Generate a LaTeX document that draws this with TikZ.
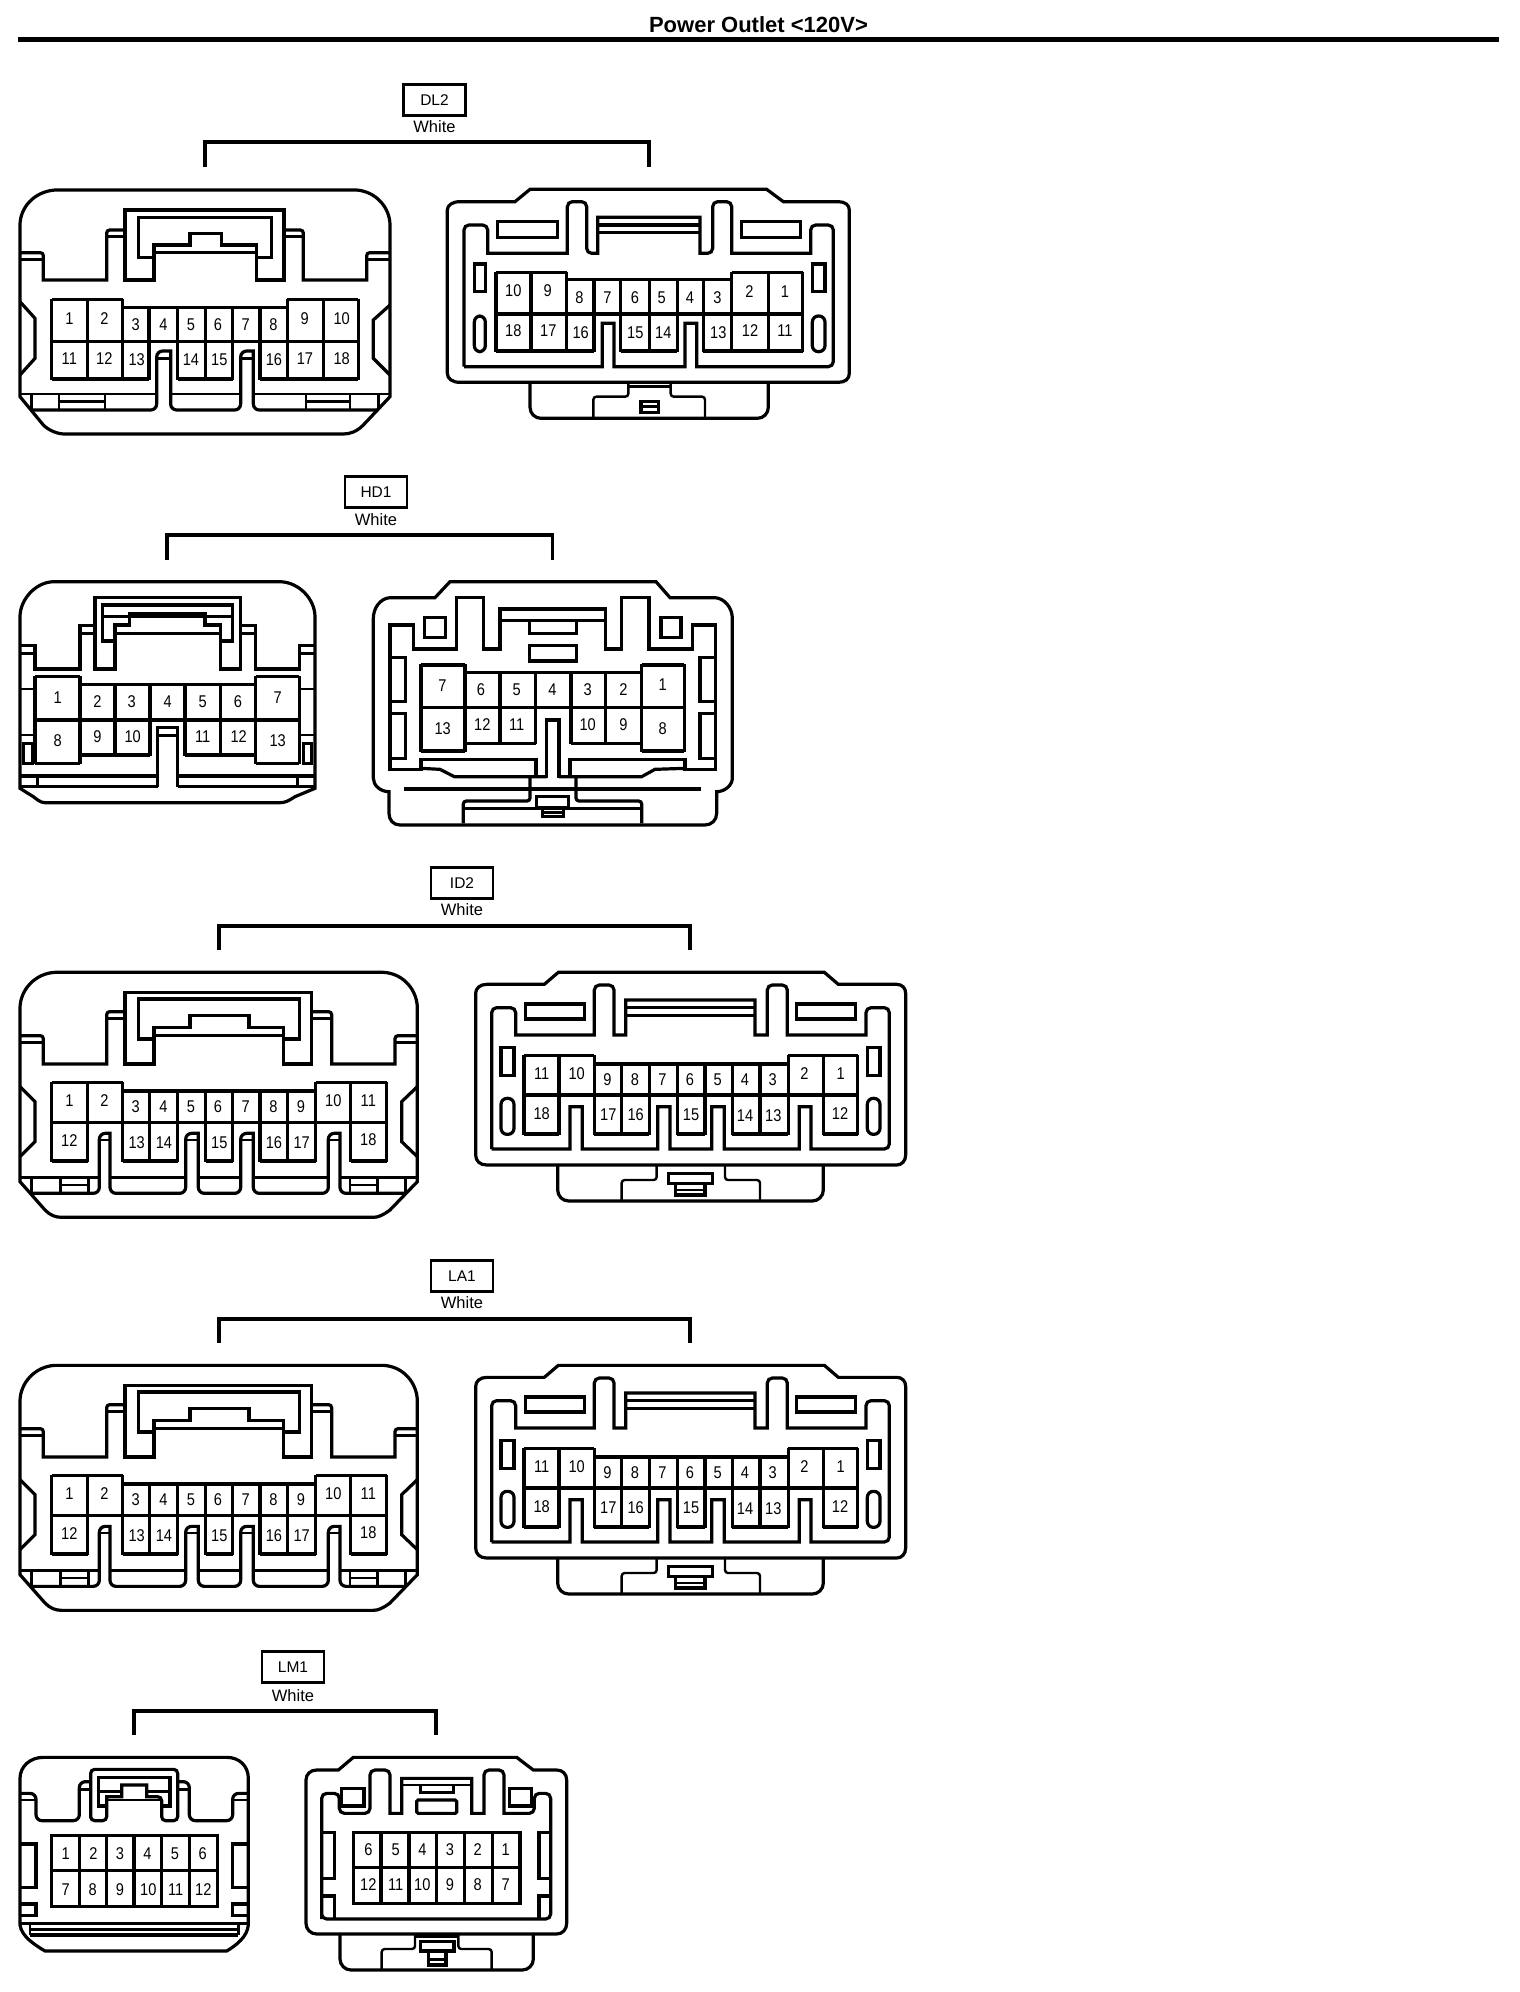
\documentclass[tikz,border=0pt]{standalone}
\usepackage{fontspec}
\setmainfont{Liberation Sans}
\newfontfamily\pinfont[FakeStretch=0.86]{Liberation Sans}
\newcounter{pinc}
\tikzset{
  wall/.style={line width=3.2pt,line join=miter,line cap=butt},
  thin wall/.style={line width=2.4pt,line join=miter,line cap=butt},
  pinlabel/.style={inner sep=0pt,font=\pinfont\fontsize{17}{17}\selectfont},
  tagbox/.style={draw,line width=2.7pt,minimum width=62pt,minimum height=31pt,inner sep=0pt,font=\fontsize{15.5}{16}\selectfont},
  colourlabel/.style={inner sep=0pt,font=\fontsize{16.5}{17}\selectfont},
  bracket/.style={line width=3.6pt,line join=miter}
}
\newcommand{\pinset}[1]{\foreach \pt/\px/\py in {#1}{\stepcounter{pinc}\node[pinlabel] (pin\arabic{pinc}) at (\px,\py) {\pt};}}
\newcommand{\vlines}[3]{\foreach \vx in {#1}{\draw[wall] (\vx,#2) -- (\vx,#3);}}
\newcommand{\bracketset}[9]{%
  \node[tagbox] (#1) at (#2pt,-#3pt) {#4};
  \node[colourlabel] (#1w) at (#2pt,-#5pt) {White};
  \coordinate (#1a) at (#6pt,-#9pt);
  \coordinate (#1b) at (#7pt,-#9pt);
  \draw[bracket] (#1a) -- (#6pt,-#8pt) -- (#7pt,-#8pt) -- (#1b);
}
\newenvironment{zoomed}[2]{\begin{scope}[shift={(#1pt,-#2pt)},x=0.33333pt,y=-0.33333pt]}{\end{scope}}
% ---------- 18 pin wide, ID2/LA1 ----------
\newcommand{\idleft}{%
  \draw[wall] (135,22) -- (1120,22) .. controls (1180,25) and (1222,75) .. (1222,130) -- (1222,650) -- (1140,735) .. controls (1120,750) and (1105,757) .. (1090,757) -- (155,757) .. controls (135,757) and (120,750) .. (105,735) -- (30,650) -- (30,130) .. controls (30,75) and (75,25) .. (135,22) -- cycle;
  \draw[wall,rounded corners=3pt] (30,212) -- (100,212) [sharp corners] -- (100,297) -- (290,297) [rounded corners=3pt] -- (290,140) -- (345,140);
  \draw[wall,rounded corners=3pt] (1222,212) -- (1155,212) [sharp corners] -- (1155,297) -- (965,297) [rounded corners=3pt] -- (965,140) -- (905,140);
  \draw[thin wall] (30,232) -- (100,232) (290,160) -- (345,160) (1222,232) -- (1155,232) (965,160) -- (905,160);
  \draw[wall] (345,297) -- (345,82) -- (905,82) -- (905,297) -- (820,297) -- (820,187) -- (717,187) -- (717,152) -- (540,152) -- (540,187) -- (432,187) -- (432,297) -- cycle;
  \draw[wall] (432,222) -- (385,222) -- (385,102) -- (868,102) -- (868,222) -- (820,222);
  \draw[thin wall] (432,212) -- (820,212);
  \draw[wall] (125,353) -- (338,353) (338,378) -- (917,378) (917,353) -- (1130,353) (125,472) -- (1130,472);
  \draw[wall] (125,588) -- (233,588) (338,588) -- (503,588) (587,588) -- (668,588) (750,588) -- (917,588) (1022,588) -- (1130,588);
  \vlines{125,233,338,917,1022,1130}{351}{590}
  \vlines{418,503,587,668,750,833}{378}{590}
  \draw[wall,rounded corners=6pt] (65,685) -- (268,685) -- (268,505) [sharp corners] -- (300,505) [rounded corners=6pt] -- (300,685) -- (527,685) -- (527,505) [sharp corners] -- (565,505) [rounded corners=6pt] -- (565,685) -- (692,685) -- (692,505) [sharp corners] -- (730,505) [rounded corners=6pt] -- (730,685) -- (955,685) -- (955,505) [sharp corners] -- (990,505) [rounded corners=6pt] -- (990,685) -- (1187,685);
  \draw[thin wall] (268,525) -- (300,525) (527,525) -- (565,525) (692,525) -- (730,525) (955,525) -- (990,525);
  \draw[thin wall] (30,637) -- (268,637) (300,637) -- (527,637) (565,637) -- (692,637) (730,637) -- (955,637) (990,637) -- (1222,637);
  \draw[thin wall] (65,637) -- (65,685) (152,637) -- (152,685) (235,637) -- (235,685) (152,660) -- (235,660) (1020,637) -- (1020,685) (1103,637) -- (1103,685) (1187,637) -- (1187,685) (1020,660) -- (1103,660);
  \draw[wall] (30,365) -- (75,410) -- (75,530) -- (30,575) (1222,365) -- (1175,410) -- (1175,530) -- (1222,575);
  \pinset{1/178/408,2/283/408,3/377/425,4/460/425,5/543/425,6/624/425,7/707/425,8/790/425,9/873/425,10/970/408,11/1075/408,12/178/527,13/380/533,14/462/533,15/628/533,16/792/533,17/875/533,18/1075/525}
}
\newcommand{\idright}{%
  \draw[wall] (65,58) -- (238,58) -- (280,22) -- (1078,22) -- (1120,58) -- (1295,58) .. controls (1312,58) and (1322,70) .. (1322,85) -- (1322,570) .. controls (1322,588) and (1310,600) .. (1295,600) -- (65,600) .. controls (45,600) and (32,588) .. (32,570) -- (32,85) .. controls (32,70) and (45,58) .. (65,58) -- cycle;
  \draw[wall,rounded corners=11pt] (278,600) -- (278,708) -- (1075,708) -- (1075,600);
  \draw[thin wall,rounded corners=3pt] (575,600) -- (575,645) -- (470,645) -- (470,708);
  \draw[thin wall,rounded corners=3pt] (780,600) -- (780,645) -- (885,645) -- (885,708);
  \draw[wall] (610,625) rectangle (742,655) (632,655) -- (632,690) -- (720,690) -- (720,655);
  \draw[thin wall] (632,675) -- (720,675);
  \draw[wall,rounded corners=5pt] (80,552) -- (80,128) -- (152,128) [sharp corners] -- (152,210) -- (388,210) [rounded corners=5pt] -- (388,60) -- (447,60) [sharp corners] -- (447,210) -- (482,210) -- (482,105) -- (870,105) -- (870,210) -- (907,210) [rounded corners=5pt] -- (907,60) -- (967,60) [sharp corners] -- (967,210) -- (1203,210) [rounded corners=5pt] -- (1203,128) -- (1273,128) -- (1273,552) [sharp corners] -- (1038,552) -- (1038,425) -- (1003,425) -- (1003,552) -- (778,552) -- (778,425) -- (740,425) -- (740,552) -- (615,552) -- (615,425) -- (578,425) -- (578,552) -- (352,552) -- (352,425) -- (315,425) -- (315,552) -- (80,552);
  \draw[wall] (482,128) -- (870,128) (482,152) -- (870,152);
  \draw[wall] (182,117) rectangle (358,162) (995,117) rectangle (1172,162) (108,247) rectangle (147,332) (1207,247) rectangle (1245,332);
  \draw[wall,rounded corners=6pt] (108,400) rectangle (147,508) (1207,400) rectangle (1245,508);
  \draw[wall] (177,272) -- (388,272) (388,297) -- (970,297) (970,272) -- (1178,272) (177,390) -- (1178,390);
  \draw[wall] (177,507) -- (282,507) (388,507) -- (553,507) (637,507) -- (720,507) (802,507) -- (970,507) (1075,507) -- (1178,507);
  \vlines{177,282,388,970,1075,1178}{270}{509}
  \vlines{470,553,637,720,802,885}{297}{509}
  \pinset{11/230/327,10/335/327,9/427/345,8/510/345,7/592/345,6/675/345,5/758/345,4/840/345,3/923/345,2/1018/327,1/1127/327,18/230/445,17/430/450,16/512/450,15/678/450,14/840/452,13/925/452,12/1125/445}
}
\begin{document}
\begin{tikzpicture}[x=1pt,y=1pt]
\fill[white] (0,0) rectangle (1520,-1992);
\useasboundingbox (0,0) rectangle (1520,-1992);
\node[inner sep=0pt,font=\bfseries\fontsize{22}{24}\selectfont] (title) at (758.5,-24.7) {Power Outlet <120V>};
\coordinate (rulea) at (18,-39.3);
\coordinate (ruleb) at (1499,-39.3);
\draw[line width=5.2pt] (rulea) -- (ruleb);
% brackets and tags
\bracketset{dl}{434.5}{100}{DL2}{127}{205}{648.7}{142}{167}
\bracketset{hd}{376}{492}{HD1}{520}{167}{552.6}{535}{560}
\bracketset{id}{462}{883}{ID2}{910}{219}{690}{926}{950}
\bracketset{la}{462}{1276}{LA1}{1303}{219}{690}{1319}{1343}
\bracketset{lm}{293}{1667}{LM1}{1696}{134}{436}{1711}{1735}

% ---------- DL2 left ----------
\begin{zoomed}{10}{180}
  \draw[wall] (135,30) -- (1040,30) .. controls (1100,35) and (1140,85) .. (1140,135) -- (1140,650) -- (1060,735) .. controls (1040,755) and (1020,762) .. (1000,762) -- (165,762) .. controls (140,762) and (115,750) .. (100,735) -- (30,650) -- (30,135) .. controls (30,85) and (70,35) .. (135,30) -- cycle;
  \draw[wall,rounded corners=3pt] (30,218) -- (100,218) [sharp corners] -- (100,300) -- (290,300) [rounded corners=3pt] -- (290,150) -- (345,150);
  \draw[wall,rounded corners=3pt] (1140,218) -- (1070,218) [sharp corners] -- (1070,300) -- (880,300) [rounded corners=3pt] -- (880,150) -- (825,150);
  \draw[thin wall] (30,238) -- (100,238) (290,170) -- (345,170) (1140,238) -- (1070,238) (880,170) -- (825,170);
  \draw[wall] (345,300) -- (345,90) -- (822,90) -- (822,300) -- (740,300) -- (740,195) -- (635,195) -- (635,160) -- (540,160) -- (540,195) -- (432,195) -- (432,300) -- cycle;
  \draw[wall] (432,232) -- (385,232) -- (385,112) -- (785,112) -- (785,232) -- (740,232);
  \draw[thin wall] (432,218) -- (740,218);
  \draw[wall] (125,358) -- (338,358) (338,383) -- (832,383) (832,358) -- (1045,358) (125,485) -- (1045,485);
  \draw[wall] (125,597) -- (417,597) (503,597) -- (668,597) (750,597) -- (1045,597);
  \vlines{125,233,338,832,940,1045}{356}{599}
  \vlines{417,503,587,668,750}{383}{599}
  \draw[wall,rounded corners=6pt] (65,690) -- (440,690) -- (440,513) [sharp corners] -- (482,513) [rounded corners=6pt] -- (482,690) -- (692,690) -- (692,513) [sharp corners] -- (730,513) [rounded corners=6pt] -- (730,690) -- (1105,690);
  \draw[thin wall] (440,535) -- (482,535) (692,535) -- (730,535);
  \draw[thin wall] (30,642) -- (440,642) (482,642) -- (692,642) (730,642) -- (1140,642);
  \draw[thin wall] (65,642) -- (65,690) (147,642) -- (147,690) (285,642) -- (285,690) (147,665) -- (285,665) (888,642) -- (888,690) (1020,642) -- (1020,690) (1105,642) -- (1105,690) (888,665) -- (1020,665);
  \draw[wall] (30,365) -- (75,415) -- (75,535) -- (30,585) (1140,375) -- (1090,420) -- (1090,535) -- (1140,585);
  \pinset{1/178/415,2/283/415,3/377/433,4/460/433,5/543/433,6/624/433,7/707/433,8/790/433,9/884/415,10/995/415,11/178/535,12/283/535,13/380/540,14/543/540,15/628/540,16/792/540,17/885/535,18/995/535}
\end{zoomed}

% ---------- DL2 right ----------
\begin{zoomed}{440}{180}
  \draw[wall] (60,65) -- (225,65) -- (270,28) -- (980,28) -- (1030,65) -- (1195,65) .. controls (1215,65) and (1228,75) .. (1228,90) -- (1228,580) .. controls (1228,597) and (1215,607) .. (1195,607) -- (60,607) .. controls (38,607) and (22,597) .. (22,580) -- (22,90) .. controls (22,75) and (38,65) .. (60,65) -- cycle;
  \draw[wall,rounded corners=11pt] (270,607) -- (270,715) -- (985,715) -- (985,607);
  \draw[thin wall,rounded corners=3pt] (565,607) -- (565,650) -- (460,650) -- (460,715);
  \draw[thin wall,rounded corners=3pt] (692,607) -- (692,650) -- (795,650) -- (795,715);
  \draw[thin wall] (565,620) -- (692,620);
  \draw[wall] (603,665) rectangle (655,698);
  \draw[thin wall] (603,680) -- (655,680);
  \draw[wall,rounded corners=5pt] (72,560) -- (72,135) -- (143,135) [sharp corners] -- (143,220) -- (382,220) [rounded corners=5pt] -- (382,65) -- (440,65) -- (440,220) [sharp corners] -- (473,220) -- (473,112) -- (780,112) -- (780,220) [rounded corners=5pt] -- (818,220) -- (818,65) -- (875,65) [sharp corners] -- (875,220) -- (1112,220) [rounded corners=5pt] -- (1112,135) -- (1180,135) -- (1180,560) [sharp corners] -- (770,560) -- (770,430) -- (735,430) -- (735,560) -- (522,560) -- (522,430) -- (487,430) -- (487,560) -- (72,560);
  \draw[wall] (473,135) -- (780,135) (473,158) -- (780,158);
  \draw[wall] (172,125) rectangle (352,172) (905,125) rectangle (1082,172) (103,252) rectangle (136,335) (1117,252) rectangle (1155,335);
  \draw[wall,rounded corners=6pt] (103,408) rectangle (136,515) (1117,408) rectangle (1155,515);
  \draw[wall] (168,277) -- (380,277) (380,298) -- (875,298) (875,277) -- (1088,277) (168,402) -- (1088,402);
  \draw[wall] (168,513) -- (462,513) (542,513) -- (712,513) (790,513) -- (1088,513);
  \vlines{168,273,380,875,985,1088}{275}{515}
  \vlines{462,542,628,712,790}{298}{515}
  \pinset{10/220/333,9/323/333,8/418/352,7/502/352,6/585/352,5/665/352,4/750/352,3/832/352,2/928/335,1/1035/335,18/220/452,17/325/452,16/422/458,15/586/458,14/670/458,13/835/458,12/930/452,11/1035/452}
\end{zoomed}

% ---------- HD1 left ----------
\begin{zoomed}{10}{575}
  \draw[wall] (130,20) -- (810,20) .. controls (870,22) and (915,75) .. (915,125) -- (915,640) -- (855,665) .. controls (835,678) and (825,683) .. (810,683) -- (105,683) .. controls (90,683) and (80,672) .. (70,665) -- (30,640) -- (30,125) .. controls (30,75) and (75,22) .. (130,20) -- cycle;
  \draw[wall] (30,212) -- (75,212) -- (75,282) -- (210,282) -- (210,152) -- (255,152);
  \draw[wall] (915,212) -- (868,212) -- (868,282) -- (737,282) -- (737,152) -- (692,152);
  \draw[thin wall] (30,235) -- (75,235) (210,175) -- (255,175) (915,235) -- (868,235) (737,175) -- (692,175);
  \draw[wall] (255,282) -- (255,68) -- (692,68) -- (692,282) -- (632,282) -- (632,150) -- (585,150) -- (585,115) -- (358,115) -- (358,150) -- (315,150) -- (315,282) -- cycle;
  \draw[wall] (315,198) -- (278,198) -- (278,90) -- (668,90) -- (668,198) -- (632,198);
  \draw[thin wall] (278,125) -- (668,125) (315,175) -- (632,175);
  \draw[wall] (75,305) -- (210,305) (210,328) -- (737,328) (737,305) -- (868,305) (75,435) -- (868,435);
  \draw[wall] (75,565) -- (210,565) (210,540) -- (420,540) (525,540) -- (737,540) (737,565) -- (868,565);
  \vlines{75,210,737,868}{303}{567}
  \vlines{315,420,525,632}{328}{542}
  \draw[wall] (443,635) -- (443,458) -- (503,458) -- (503,635);
  \draw[thin wall] (443,482) -- (503,482);
  \draw[wall] (30,635) -- (443,635) (503,635) -- (915,635);
  \draw[wall] (30,603) -- (443,603) (503,603) -- (915,603);
  \draw[thin wall] (83,603) -- (83,635) (862,603) -- (862,635);
  \draw[thin wall] (30,342) -- (75,342) (868,342) -- (915,342) (30,480) -- (75,480) (868,480) -- (915,480);
  \draw[wall] (40,505) rectangle (68,565) (880,505) rectangle (905,565);
  \pinset{1/143/368,2/262/380,3/365/380,4/473/380,5/578/380,6/684/380,7/803/368,8/143/497,9/262/485,10/368/485,11/578/485,12/686/485,13/803/497}
\end{zoomed}

% ---------- HD1 right ----------
\begin{zoomed}{365}{575}
  \draw[wall] (75,68) -- (210,68) -- (255,20) -- (873,20) -- (915,68) -- (1050,68) .. controls (1080,70) and (1102,100) .. (1102,130) -- (1102,610) .. controls (1102,630) and (1080,650) .. (1055,650) -- (1055,715) .. controls (1055,735) and (1040,750) .. (1020,750) -- (105,750) .. controls (85,750) and (72,735) .. (72,715) -- (72,650) .. controls (45,650) and (25,630) .. (25,610) -- (25,130) .. controls (25,100) and (45,70) .. (75,68) -- cycle;
  \draw[wall] (75,150) -- (145,150) -- (145,222) -- (275,222) -- (275,68) -- (355,68) -- (355,222) -- (405,222) -- (405,102) -- (722,102) -- (722,222) -- (770,222) -- (770,68) -- (852,68) -- (852,222) -- (983,222) -- (983,150) -- (1052,150) -- (1052,583) -- (960,583) -- (960,553) -- (615,553) -- (615,605) -- (582,605) -- (582,435) -- (545,435) -- (545,605) -- (513,605) -- (513,553) -- (168,553) -- (168,583) -- (75,583) -- cycle;
  \draw[wall] (168,580) -- (225,583) -- (268,605) -- (545,605) (582,605) -- (830,605) -- (870,583) -- (960,580);
  \draw[wall] (405,137) -- (722,137);
  \draw[wall] (178,127) rectangle (242,187) (888,127) rectangle (948,187) (493,212) rectangle (635,258);
  \draw[wall] (493,140) -- (493,175) -- (635,175) -- (635,140);
  \draw[wall] (75,248) -- (122,248) -- (122,380) -- (75,380) (75,415) -- (122,415) -- (122,550) -- (75,550);
  \draw[wall] (1052,248) -- (1005,248) -- (1005,380) -- (1052,380) (1052,415) -- (1005,415) -- (1005,550) -- (1052,550);
  \draw[wall] (168,270) -- (300,270) (300,293) -- (830,293) (830,270) -- (958,270) (168,398) -- (958,398);
  \draw[wall] (168,528) -- (300,528) (300,505) -- (512,505) (618,505) -- (830,505) (830,528) -- (958,528);
  \vlines{168,300,830,958}{268}{530}
  \vlines{405,512,618,722}{293}{507}
  \draw[line width=3.4pt] (118,642) -- (1008,642);
  \draw[wall,rounded corners=3pt] (495,605) -- (495,678) -- (295,678) -- (295,745);
  \draw[wall,rounded corners=3pt] (633,605) -- (633,678) -- (830,678) -- (830,745);
  \draw[wall] (295,700) -- (830,700);
  \draw[wall] (515,665) rectangle (610,698) (533,698) -- (533,725) -- (595,725) -- (595,698);
  \draw[thin wall] (533,712) -- (595,712);
  \pinset{7/232/332,6/348/343,5/455/343,4/562/345,3/668/343,2/775/343,1/893/330,13/233/462,12/352/450,11/455/450,10/668/450,9/775/450,8/893/462}
\end{zoomed}

% ---------- ID2 ----------
\begin{zoomed}{10}{965}\idleft\end{zoomed}
\begin{zoomed}{465}{965}\idright\end{zoomed}
% ---------- LA1 ----------
\begin{zoomed}{10}{1358}\idleft\end{zoomed}
\begin{zoomed}{465}{1358}\idright\end{zoomed}

% ---------- LM1 left ----------
\begin{zoomed}{10}{1750}
  \draw[wall] (100,22) -- (650,22) .. controls (690,22) and (715,50) .. (715,85) -- (715,525) .. controls (712,560) and (680,585) .. (650,603) -- (105,603) .. controls (75,585) and (35,560) .. (30,525) -- (30,85) .. controls (30,50) and (60,22) .. (100,22) -- cycle;
  \draw[wall,rounded corners=6pt] (30,130) -- (78,130) -- (78,212) -- (208,212) -- (208,95) -- (242,95);
  \draw[wall,rounded corners=6pt] (715,130) -- (668,130) -- (668,212) -- (538,212) -- (538,95) -- (503,95);
  \draw[thin wall] (30,150) -- (78,150) (208,118) -- (242,118) (715,150) -- (668,150) (538,118) -- (503,118);
  \draw[wall,rounded corners=4pt] (242,205) -- (242,58) -- (503,58) -- (503,212) -- (455,212) -- (455,140) [sharp corners] -- (410,140) -- (410,105) -- (335,105) -- (335,140) -- (290,140) [rounded corners=4pt] -- (290,212) -- (242,212) -- (242,190);
  \draw[wall] (290,168) -- (265,168) -- (265,82) -- (480,82) -- (480,168) -- (455,168);
  \draw[thin wall] (265,125) -- (335,125) (410,125) -- (480,125) (290,150) -- (455,150);
  \draw[wall] (125,257) rectangle (622,470) (125,362) -- (622,362);
  \vlines{208,290,372,455,538}{257}{470}
  \draw[wall] (30,282) -- (78,282) -- (78,412) -- (30,412) (30,462) -- (78,462) -- (78,497) -- (30,497);
  \draw[wall] (715,282) -- (667,282) -- (667,412) -- (715,412) (715,462) -- (667,462) -- (667,497) -- (715,497);
  \draw[wall] (30,520) -- (715,520) (60,555) -- (685,555);
  \draw[thin wall] (60,538) -- (685,538) (60,520) -- (60,555) (685,520) -- (685,555);
  \pinset{1/167/310,2/250/310,3/330/310,4/412/310,5/495/310,6/578/310,7/167/418,8/248/418,9/330/418,10/415/418,11/497/418,12/580/418}
\end{zoomed}

% ---------- LM1 right ----------
\begin{zoomed}{300}{1750}
  \draw[wall] (50,60) -- (115,60) -- (160,22) -- (650,22) -- (700,60) -- (770,60) .. controls (788,60) and (800,72) .. (800,90) -- (800,520) .. controls (800,538) and (788,552) .. (770,552) -- (50,552) .. controls (32,552) and (18,538) .. (18,520) -- (18,90) .. controls (18,72) and (32,60) .. (50,60) -- cycle;
  \draw[wall,rounded corners=11pt] (120,552) -- (120,660) -- (700,660) -- (700,552);
  \draw[thin wall,rounded corners=3pt] (345,552) -- (345,597) -- (245,597) -- (245,660);
  \draw[thin wall,rounded corners=3pt] (475,552) -- (475,597) -- (575,597) -- (575,660);
  \draw[thin wall] (345,560) -- (475,560);
  \draw[wall] (362,575) rectangle (462,603) (385,603) -- (385,645) -- (438,645) -- (438,603);
  \draw[thin wall] (385,628) -- (438,628);
  \draw[wall,rounded corners=5pt] (65,507) -- (65,130) -- (118,130) -- (118,190) -- (210,190) -- (210,60) -- (270,60) [sharp corners] -- (270,190) -- (305,190) -- (305,85) -- (515,85) -- (515,190) -- (552,190) [rounded corners=5pt] -- (552,60) -- (612,60) [sharp corners] -- (612,190) [rounded corners=5pt] -- (703,190) -- (703,130) -- (752,130) -- (752,507) -- (65,507) -- (65,480);
  \draw[thin wall] (305,105) -- (515,105);
  \draw[wall] (124,115) rectangle (192,168) (628,115) rectangle (695,168) (362,105) -- (362,128) -- (460,128) -- (460,105);
  \draw[wall,rounded corners=1.5pt] (350,150) rectangle (470,190);
  \draw[wall] (65,248) -- (103,248) -- (103,385) -- (65,385) (65,438) -- (103,438) -- (103,505);
  \draw[wall] (752,248) -- (717,248) -- (717,385) -- (752,385) (752,438) -- (717,438) -- (717,505);
  \draw[wall] (160,247) rectangle (660,460) (160,352) -- (660,352);
  \vlines{243,327,410,493,577}{247}{460}
  \pinset{6/205/298,5/287/298,4/367/298,3/450/298,2/533/298,1/617/298,12/205/405,11/287/405,10/367/405,9/450/405,8/533/405,7/617/405}
\end{zoomed}
\end{tikzpicture}
\end{document}
